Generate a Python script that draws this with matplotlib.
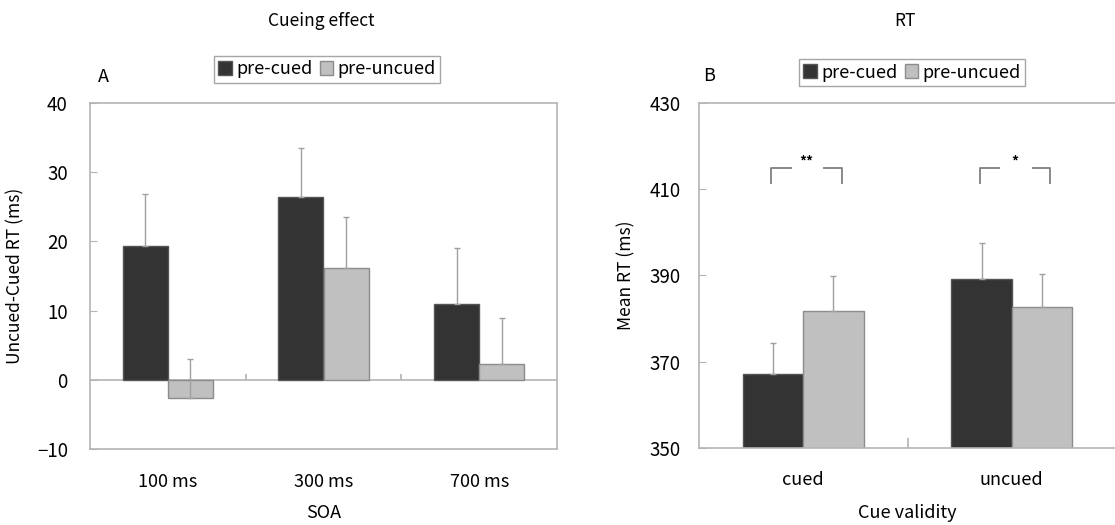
import numpy as np
import matplotlib
matplotlib.use("Agg")
import matplotlib.pyplot as plt

plt.rcParams['font.family'] = ['Noto Sans CJK JP', 'DejaVu Sans']

# panel A: cueing effect (uncued - cued RT)
soa_labels = ["100 ms", "300 ms", "700 ms"]
effect_pre_cued = [19.3, 26.4, 10.9]
effect_pre_cued_err = [7.6, 7.1, 8.2]
effect_pre_uncued = [-2.6, 16.1, 2.3]
effect_pre_uncued_err = [5.6, 7.4, 6.7]

# panel B: mean RT
validity_labels = ["cued", "uncued"]
rt_pre_cued = [367.1, 389.1]
rt_pre_cued_err = [7.1, 8.3]
rt_pre_uncued = [381.8, 382.6]
rt_pre_uncued_err = [8.0, 7.6]
sig_marks = ["**", "*"]

DARK = "#333333"
LIGHT = "#c0c0c0"
EDGE = "#8c8c8c"
FRAME = "#b4b4b4"
ERR = "#a0a0a0"
W, H = 1115, 525
bw = 0.29

fig = plt.figure(figsize=(W / 100, H / 100), dpi=100)
axA = fig.add_axes([90 / W, 1 - 449 / H, 467 / W, 346 / H])
axB = fig.add_axes([699 / W, 1 - 447.7 / H, 417 / W, 344.7 / H])


def draw_bars(ax, vals1, err1, vals2, err2):
    x = np.arange(len(vals1))
    b1 = ax.bar(x - bw / 2, vals1, bw, color=DARK, edgecolor="#555555", linewidth=1, label="pre-cued", zorder=2)
    b2 = ax.bar(x + bw / 2, vals2, bw, color=LIGHT, edgecolor=EDGE, linewidth=1, label="pre-uncued", zorder=2)
    ax.errorbar(x - bw / 2, vals1, yerr=[np.zeros(len(x)), err1], fmt="none",
                ecolor=ERR, elinewidth=1, capsize=2.5, capthick=1, zorder=3)
    ax.errorbar(x + bw / 2, vals2, yerr=[np.zeros(len(x)), err2], fmt="none",
                ecolor=ERR, elinewidth=1, capsize=2.5, capthick=1, zorder=3)
    for s in ax.spines.values():
        s.set_color(FRAME)
        s.set_linewidth(1.2)
    ax.tick_params(axis="y", direction="in", length=5, color=FRAME, labelsize=13.5, pad=16)
    return b1, b2


# ---- panel A
b1, b2 = draw_bars(axA, effect_pre_cued, effect_pre_cued_err, effect_pre_uncued, effect_pre_uncued_err)
axA.set_xlim(-0.5, 2.5)
axA.set_ylim(-10, 40)
axA.set_yticks([-10, 0, 10, 20, 30, 40])
axA.set_xticks(range(3))
axA.set_xticklabels(soa_labels)
axA.tick_params(axis="x", length=0, labelsize=13, pad=17)
axA.axhline(0, color=FRAME, linewidth=1.2, zorder=1)
# category boundary ticks on the zero line
axA.vlines([0.5, 1.5], 0, 0.9, color=FRAME, linewidth=1.2)
axA.set_ylabel("Uncued-Cued RT (ms)", fontsize=12.5)
axA.yaxis.set_label_coords(-0.14, 0.5)
axA.set_xlabel("SOA", fontsize=13)
axA.xaxis.set_label_coords(0.5, -0.185)
axA.xaxis.label.set_va("center")

# ---- panel B
draw_bars(axB, rt_pre_cued, rt_pre_cued_err, rt_pre_uncued, rt_pre_uncued_err)
axB.spines["right"].set_visible(False)
axB.set_xlim(-0.5, 1.5)
axB.set_ylim(350, 430)
axB.set_yticks([350, 370, 390, 410, 430])
axB.set_xticks(range(2))
axB.set_xticklabels(validity_labels)
axB.set_xticks([0.5], minor=True)
axB.tick_params(axis="x", which="major", length=0, labelsize=13, pad=17)
axB.tick_params(axis="x", which="minor", direction="in", length=7, color=FRAME, width=1.2)
axB.tick_params(axis="y", pad=13)
axB.set_ylabel("Mean RT (ms)", fontsize=12.5)
axB.yaxis.set_label_coords(-0.153, 0.5)
axB.set_xlabel("Cue validity", fontsize=13)
axB.xaxis.set_label_coords(0.5, -0.19)
axB.xaxis.label.set_va("center")

# significance brackets
for i, mark in enumerate(sig_marks):
    left, right = i - 0.154, i + 0.184
    g0, g1 = i - 0.054, i + 0.095
    top, bot = 414.8, 411.1
    kw = dict(color="#808080", linewidth=1.3, solid_capstyle="butt")
    axB.plot([left, left, g0], [bot, top, top], **kw)
    axB.plot([g1, right, right], [top, top, bot], **kw)
    axB.text(i + 0.017, 416.3, mark, ha="center", va="center", fontsize=10, fontweight="bold")

# titles, panel letters and legends
fig.text(321 / W, 1 - 21 / H, "Cueing effect", ha="center", va="center", fontsize=12.5)
fig.text(905 / W, 1 - 21 / H, "RT", ha="center", va="center", fontsize=12.5)
fig.text(103 / W, 1 - 77 / H, "A", ha="center", va="center", fontsize=13)
fig.text(709 / W, 1 - 76 / H, "B", ha="center", va="center", fontsize=13)

for cx, cy in [(327, 69.5), (912, 72.5)]:
    leg = fig.legend([b1, b2], ["pre-cued", "pre-uncued"], loc="center",
                     bbox_to_anchor=(cx / W, 1 - cy / H), ncol=2, fontsize=13,
                     frameon=True, fancybox=False, edgecolor="#909090",
                     handlelength=0.75, handleheight=0.8, handletextpad=0.25,
                     columnspacing=0.4, borderpad=0.25, borderaxespad=0)
    leg.get_frame().set_linewidth(1)

fig.savefig("out.png", dpi=100)
